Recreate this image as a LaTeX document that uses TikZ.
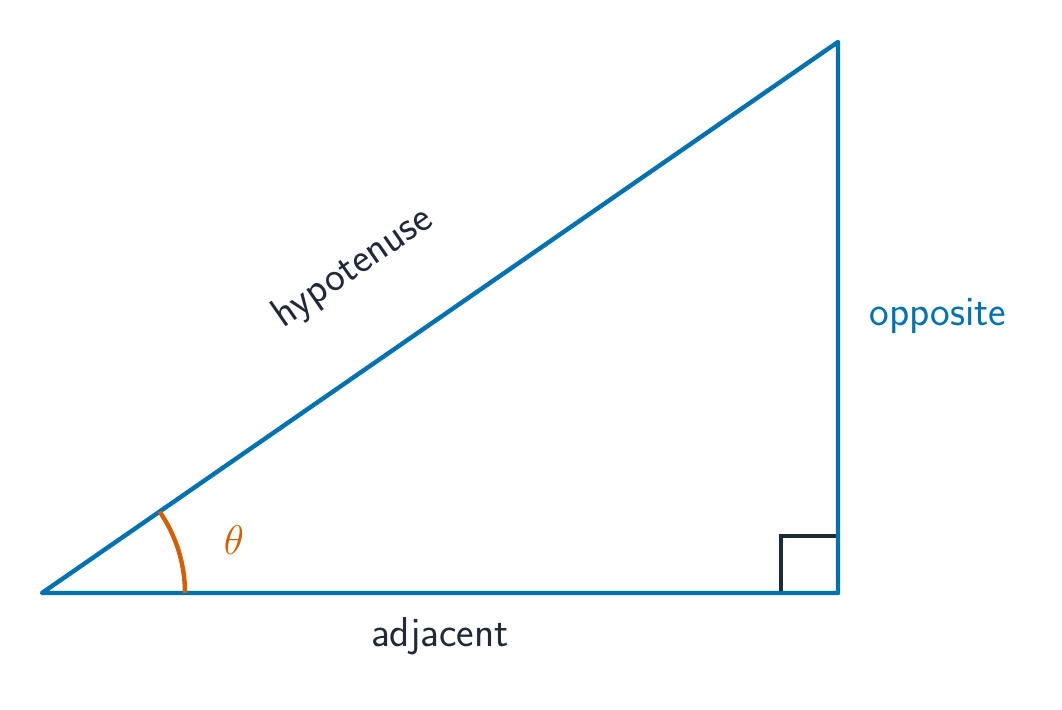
\documentclass[tikz,border=0pt]{standalone}
\usepackage{tikz}
\renewcommand{\familydefault}{\sfdefault}
\definecolor{triblue}{HTML}{0072B2}
\definecolor{triorange}{HTML}{D55E00}
\definecolor{tridark}{HTML}{1F2937}
\tikzset{
  side/.style={draw=triblue, line width=2.2pt, line join=round, line cap=round},
  lbl/.style={font=\fontsize{20.9}{25}\selectfont, text=tridark, inner sep=0pt},
  rightmark/.style={draw=tridark, line width=1.6pt},
  anglemark/.style={draw=triorange, line width=2.2pt}
}
\begin{document}
\begin{tikzpicture}[x=0.5pt,y=-0.5pt]
\useasboundingbox (0,0) rectangle (1062,710);
\coordinate (A) at (42,593);
\coordinate (B) at (838,593);
\coordinate (C) at (838,42);
\coordinate (S1) at (781,593);
\coordinate (S2) at (781,536);
\coordinate (S3) at (838,536);
\draw[rightmark] (S1) -- (S2) -- (S3);
\draw[side] (A) -- (B) -- (C) -- cycle;
\draw[anglemark] (A) ++(185-42,0) arc[start angle=0, end angle=-34.69, radius=143];
\node[lbl, text=triorange] (theta) at (234,540) {$\theta$};
\node[lbl, rotate=34.69] (hyp) at (353,268) {hypotenuse};
\node[lbl, text=triblue] (opp) at (938,316) {opposite};
\node[lbl] (adj) at (440,636) {adjacent};
\end{tikzpicture}
\end{document}
